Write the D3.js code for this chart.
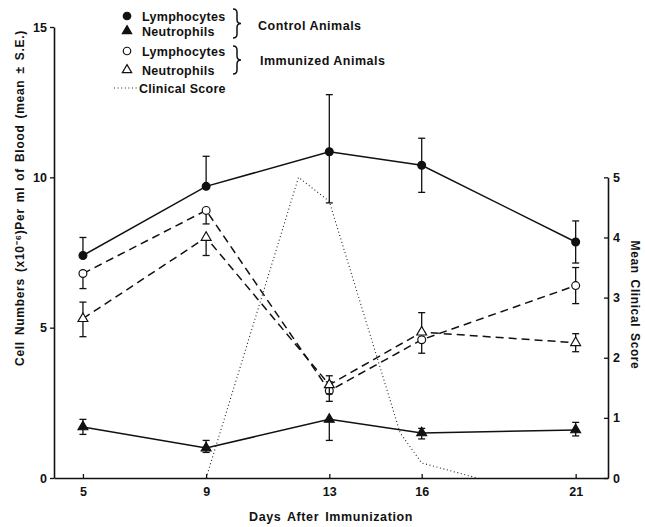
<!DOCTYPE html>
<html>
<head>
<meta charset="utf-8">
<script src="https://cdn.jsdelivr.net/npm/d3@7"></script>
<style>
  body { margin: 0; background: #fff; }
  text { font-family: "Liberation Sans", Arial, sans-serif; fill: #111; }
</style>
</head>
<body>
<div id="chart"></div>
<script>
// days the blood was sampled
const days = [5, 9, 13, 16, 21];

// control animals (cells x10^6 per ml), with upper / lower S.E. as drawn
const ctrlLymph     = [7.4, 9.7, 10.85, 10.4, 7.85];
const ctrlLymphUp   = [0.6, 1.0, 1.9, 0.9, 0.7];
const ctrlLymphDn   = [0, 0, 1.7, 0.9, 0.7];
const ctrlNeut      = [1.7, 1.0, 1.95, 1.5, 1.6];
const ctrlNeutUp    = [0.25, 0.25, 0, 0.15, 0.25];
const ctrlNeutDn    = [0.25, 0.15, 0.7, 0.2, 0.2];

// immunized animals
const immLymph      = [6.8, 8.9, 2.9, 4.6, 6.4];
const immLymphUp    = [0, 0, 0.3, 0, 0.6];
const immLymphDn    = [0.5, 0.45, 0.35, 0.45, 0.6];
const immNeut       = [5.3, 8.0, 3.1, 4.85, 4.5];
const immNeutUp     = [0.55, 0, 0.3, 0.65, 0.3];
const immNeutDn     = [0.6, 0.6, 0.3, 0, 0.3];

// mean clinical score (right axis)
const clinDays  = [9, 12, 13, 15.3, 16, 17.8];
const clinScore = [0, 5, 4.6, 0.75, 0.25, 0];

const leftTicks  = [0, 5, 10, 15];
const rightTicks = [0, 1, 2, 3, 4, 5];

const width = 645, height = 527;

const svg = d3.select('#chart')
              .append('svg')
              .attr('width', width)
              .attr('height', height);

const x  = d3.scaleLinear().domain([4.06, 22.05]).range([54, 608]);
const y  = d3.scaleLinear().domain([0, 15]).range([478, 27]);
const yR = d3.scaleLinear().domain([0, 7.5]).range([478, 27]);
// right axis is only drawn from 0 to 5
const yRaxis = d3.scaleLinear().domain([0, 5]).range([yR(0), yR(5)]);

const fontSize = '12.5px';

// axes
const gLeft = svg.append('g')
    .attr('transform', 'translate(54,0)')
    .call(d3.axisLeft(y).tickValues(leftTicks).tickFormat(d3.format('d')).tickSize(4).tickSizeOuter(0).tickPadding(3));

const gBottom = svg.append('g')
    .attr('transform', 'translate(0,478)')
    .call(d3.axisBottom(x).tickValues(days).tickFormat(d3.format('d')).tickSize(-4).tickSizeOuter(0).tickPadding(9));

const gRight = svg.append('g')
    .attr('transform', 'translate(608,0)')
    .call(d3.axisRight(yRaxis).tickValues(rightTicks).tickFormat(d3.format('d')).tickSize(-4).tickSizeOuter(0).tickPadding(5));

[gLeft, gBottom, gRight].forEach(g => {
  g.select('.domain').attr('stroke', '#111').attr('stroke-width', 1.6);
  g.selectAll('.tick line').attr('stroke', '#111').attr('stroke-width', 1.3);
  g.selectAll('.tick text')
   .style('font-family', '"Liberation Sans", Arial, sans-serif')
   .style('font-size', fontSize)
   .style('font-weight', 'bold')
   .attr('fill', '#111');
});

// axis titles
svg.append('text')
   .attr('x', 331).attr('y', 521)
   .attr('text-anchor', 'middle')
   .style('font-size', fontSize).style('font-weight', 'bold')
   .style('letter-spacing', '0.6px').style('word-spacing', '2px')
   .text('Days After Immunization');

svg.append('text')
   .attr('transform', 'translate(24,198) rotate(-90)')
   .attr('text-anchor', 'middle')
   .style('font-size', '12px').style('font-weight', 'bold')
   .style('letter-spacing', '0.7px').style('word-spacing', '2px')
   .text('Cell Numbers (x10\u207B\u2076)Per ml of Blood (mean \u00B1 S.E.)');

svg.append('text')
   .attr('transform', 'translate(631,305) rotate(90)')
   .attr('text-anchor', 'middle')
   .style('font-size', '12px').style('font-weight', 'bold')
   .style('letter-spacing', '0.6px').style('word-spacing', '2px')
   .text('Mean Clinical Score');

// series table built from the arrays above
const series = [
  {name: 'Lymphocytes', vals: ctrlLymph, up: ctrlLymphUp, dn: ctrlLymphDn, sym: d3.symbolCircle,   open: false, dash: null},
  {name: 'Neutrophils', vals: ctrlNeut,  up: ctrlNeutUp,  dn: ctrlNeutDn,  sym: d3.symbolTriangle, open: false, dash: null},
  {name: 'Lymphocytes', vals: immLymph,  up: immLymphUp,  dn: immLymphDn,  sym: d3.symbolCircle,   open: true,  dash: '8,5'},
  {name: 'Neutrophils', vals: immNeut,   up: immNeutUp,   dn: immNeutDn,   sym: d3.symbolTriangle, open: true,  dash: '8,5'}
];

const line = d3.line()
               .x(d => x(d.day))
               .y(d => y(d.v));

// clinical score dotted line
const clin = clinDays.map((d, i) => ({day: d, v: clinScore[i]}));
svg.append('path')
   .datum(clin)
   .attr('d', d3.line().x(d => x(d.day)).y(d => yR(d.v)))
   .attr('fill', 'none')
   .attr('stroke', '#222')
   .attr('stroke-width', 1.1)
   .attr('stroke-dasharray', '1,2.6');

const capW = 3.5;

series.forEach(s => {
  let pts = days.map((d, i) => ({day: d, v: s.vals[i], up: s.up[i], dn: s.dn[i]}));

  svg.append('path')
     .datum(pts)
     .attr('d', line)
     .attr('fill', 'none')
     .attr('stroke', '#111')
     .attr('stroke-width', 1.5)
     .attr('stroke-dasharray', s.dash);

  // error bars
  let eb = svg.append('g').attr('stroke', '#111').attr('stroke-width', 1.3);
  pts.forEach(p => {
    let px = x(p.day);
    [[p.up, 1], [p.dn, -1]].forEach(([e, dir]) => {
      if (e <= 0) return;
      let yEnd = y(p.v + dir * e);
      eb.append('line').attr('x1', px).attr('x2', px).attr('y1', y(p.v)).attr('y2', yEnd);
      eb.append('line').attr('x1', px - capW).attr('x2', px + capW).attr('y1', yEnd).attr('y2', yEnd);
    });
  });

  svg.selectAll(null)
     .data(pts)
     .enter()
     .append('path')
     .attr('transform', d => 'translate(' + [x(d.day), y(d.v)] + ')')
     .attr('d', d3.symbol().type(s.sym).size(s.sym === d3.symbolCircle ? 48 : 42))
     .attr('fill', s.open ? '#fff' : '#111')
     .attr('stroke', '#111')
     .attr('stroke-width', 1.2);
});

// legend
const legendRows = [20.5, 35.5, 55.5, 74.5];
series.forEach((s, i) => {
  let ly = legendRows[i];
  svg.append('path')
     .attr('transform', 'translate(127,' + (ly - 4.5) + ')')
     .attr('d', d3.symbol().type(s.sym).size(s.sym === d3.symbolCircle ? 44 : 38))
     .attr('fill', s.open ? '#fff' : '#111')
     .attr('stroke', '#111')
     .attr('stroke-width', 1.2);
  svg.append('text')
     .attr('x', 142).attr('y', ly)
     .style('font-size', fontSize).style('font-weight', 'bold')
     .style('letter-spacing', '0.3px')
     .text(s.name);
});

svg.append('line')
   .attr('x1', 114).attr('x2', 137).attr('y1', 88).attr('y2', 88)
   .attr('stroke', '#222').attr('stroke-width', 1.1)
   .attr('stroke-dasharray', '1,2.6');
svg.append('text')
   .attr('x', 139).attr('y', 92.5)
   .style('font-size', fontSize).style('font-weight', 'bold')
   .style('letter-spacing', '0.3px')
   .text('Clinical Score');

// curly braces grouping the legend rows
function brace(bx, y0, y1, w) {
  let m = (y0 + y1) / 2, h = w / 2;
  return 'M' + bx + ',' + y0 +
         'Q' + (bx + h) + ',' + y0 + ' ' + (bx + h) + ',' + (y0 + 4) +
         'L' + (bx + h) + ',' + (m - 4) +
         'Q' + (bx + h) + ',' + m + ' ' + (bx + w) + ',' + m +
         'Q' + (bx + h) + ',' + m + ' ' + (bx + h) + ',' + (m + 4) +
         'L' + (bx + h) + ',' + (y1 - 4) +
         'Q' + (bx + h) + ',' + y1 + ' ' + bx + ',' + y1;
}
[[9, 38], [46, 74]].forEach(b => {
  svg.append('path')
     .attr('d', brace(233, b[0], b[1], 8))
     .attr('fill', 'none')
     .attr('stroke', '#111')
     .attr('stroke-width', 1.5);
});

svg.append('text')
   .attr('x', 258).attr('y', 29.5)
   .style('font-size', fontSize).style('font-weight', 'bold')
   .style('letter-spacing', '0.5px')
   .text('Control Animals');
svg.append('text')
   .attr('x', 260).attr('y', 64.5)
   .style('font-size', fontSize).style('font-weight', 'bold')
   .style('letter-spacing', '0.5px')
   .text('Immunized Animals');
</script>
</body>
</html>
